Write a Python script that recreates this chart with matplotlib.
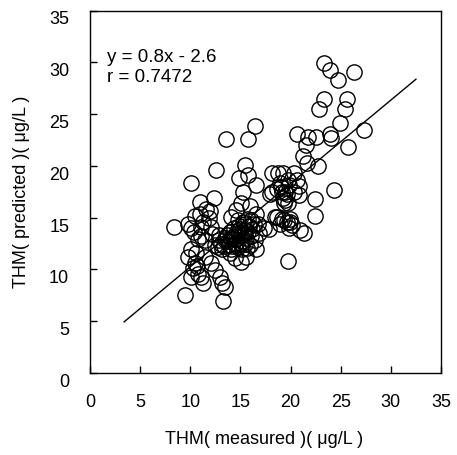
import matplotlib
matplotlib.use("Agg")
import matplotlib.pyplot as plt
import matplotlib.transforms as mtransforms
import numpy as np

plt.rcParams['font.family'] = ['Liberation Sans', 'DejaVu Sans']

measured = [
    23.3, 23.9, 24.7, 26.3, 23.3, 25.6, 22.8, 25.4, 24.9, 27.3,
    20.6, 21.7, 22.5, 23.9, 24.0, 16.5, 13.6, 15.8, 25.7, 21.5,
    21.2, 21.6, 22.7, 15.5, 24.3, 22.4, 22.4, 19.7, 21.3,
    12.6, 18.1, 18.7, 19.2, 20.3, 14.9, 15.8, 16.6, 10.1, 19.7, 20.8,
    12.4, 11.0, 15.3, 18.1, 19.1, 19.6, 20.3, 20.8, 19.4, 19.7,
    15.1, 14.6, 16.0, 16.6,
    10.5, 11.0, 11.9, 8.4, 9.8, 10.1, 11.1, 12.1, 14.1, 14.8,
    15.5, 16.1, 16.8, 17.4, 18.4, 19.1, 19.6, 20.1, 19.8, 19.9,
    11.1, 11.5,
    13.1, 13.5, 13.8, 14.1, 14.5, 14.8, 15.1, 15.5, 15.8, 16.1,
    16.5, 12.8, 12.5, 14.5, 14.8, 15.1, 16.6, 14.1, 15.5, 16.0,
    10.1, 10.6, 9.8, 10.5, 11.5, 12.1, 14.5, 15.1, 15.6,
    10.3, 10.8, 10.1, 11.3, 11.1, 12.5, 13.0, 13.2, 13.5, 9.5,
    13.3, 10.7,
    13.5, 14.0, 14.4, 14.9, 15.3, 15.8, 13.2, 14.6, 15.0, 15.6,
    16.2, 12.9, 14.2, 15.2, 16.4,
    19.0, 19.4, 18.6, 19.8, 19.2, 18.9, 17.9, 19.3, 18.9, 18.6,
    20.9, 19.3, 19.9, 20.6,
    13.7, 14.3, 14.7, 15.4, 15.9, 13.9, 14.6, 15.2, 15.7, 13.4,
    12.2, 12.9, 11.3, 10.8, 11.6, 10.4, 12.0, 16.9, 17.8, 14.0,
]
predicted = [
    29.9, 29.3, 28.3, 29.1, 26.5, 26.5, 25.5, 25.5, 24.1, 23.5,
    23.1, 22.8, 22.8, 23.1, 22.7, 23.8, 22.6, 22.6, 21.8, 22.0,
    21.0, 20.3, 20.0, 20.1, 17.7, 16.8, 15.2, 10.8, 13.5,
    19.6, 19.3, 19.3, 19.3, 19.3, 18.8, 19.1, 18.2, 18.3, 18.6, 18.1,
    16.9, 16.5, 17.5, 17.5, 17.5, 17.3, 17.5, 17.2, 16.7, 16.4,
    16.4, 15.7, 16.1, 15.4,
    15.2, 15.4, 15.0, 14.1, 14.4, 14.0, 14.1, 14.1, 15.1, 14.8,
    14.4, 14.8, 14.4, 14.0, 15.1, 14.9, 14.6, 14.3, 14.0, 14.9,
    13.2, 12.8,
    12.5, 12.8, 12.7, 13.0, 13.2, 13.5, 13.3, 13.8, 13.6, 13.2,
    12.8, 12.2, 12.4, 12.5, 12.2, 12.5, 12.0, 12.0, 12.5, 12.4,
    12.0, 11.6, 11.2, 10.6, 11.2, 10.6, 11.1, 10.7, 11.2,
    10.1, 9.6, 9.3, 8.7, 9.3, 9.9, 9.3, 8.7, 8.3, 7.5,
    7.0, 10.3,
    13.0, 13.6, 14.0, 14.2, 14.6, 14.9, 12.0, 12.9, 13.9, 13.0,
    13.9, 12.8, 12.3, 12.0, 14.4,
    18.0, 17.5, 17.8, 18.2, 16.9, 18.3, 17.3, 16.4, 14.4, 15.1,
    13.8, 14.8, 14.6, 18.6,
    13.3, 13.1, 13.7, 13.4, 14.2, 12.4, 12.6, 12.7, 12.1, 12.3,
    13.4, 13.3, 14.6, 12.9, 15.8, 13.6, 15.6, 13.5, 13.9, 11.6,
]

fit_slope = 0.805
fit_intercept = 2.2
fit_x_range = [3.4, 32.5]

ticks = [0, 5, 10, 15, 20, 25, 30, 35]
eq_text = "y = 0.8x - 2.6"
r_text = "r = 0.7472"
xlabel = "THM( measured )( μg/L )"
ylabel = "THM( predicted )( μg/L )"

fig = plt.figure(figsize=(4.57, 4.55), dpi=100)
ax = fig.add_axes([90/457, 1-373/455, (441-90)/457, (373-10.5)/455])

ax.plot(measured, predicted, linestyle='none', marker='o', markersize=11,
        markerfacecolor='none', markeredgecolor='black', markeredgewidth=1.0)

lx = np.array(fit_x_range)
ax.plot(lx, fit_slope*lx + fit_intercept, color='black', linewidth=1.0)

ax.set_xlim(0, 35)
ax.set_ylim(0, 35)
ax.set_xticks(ticks)
ax.set_yticks(ticks)
ax.tick_params(direction='in', length=5, width=1, labelsize=13, pad=15,
               top=False, right=False)
for sp in ax.spines.values():
    sp.set_color('black')
    sp.set_linewidth(1.0)

offset = mtransforms.ScaledTranslation(0, -7.5/100, fig.dpi_scale_trans)
for lab in ax.get_yticklabels():
    lab.set_transform(lab.get_transform() + offset)

ax.text(107/457, 1-57/455, eq_text, transform=fig.transFigure, fontsize=13.5,
        ha='left', va='center')
ax.text(107/457, 1-78/455, r_text, transform=fig.transFigure, fontsize=13.5,
        ha='left', va='center')

fig.text(264/457, 1-440/455, xlabel, fontsize=13, ha='center', va='center')
fig.text(22/457, 1-192/455, ylabel, fontsize=13, ha='center', va='center',
         rotation=90)

fig.savefig("out.png", dpi=100)
